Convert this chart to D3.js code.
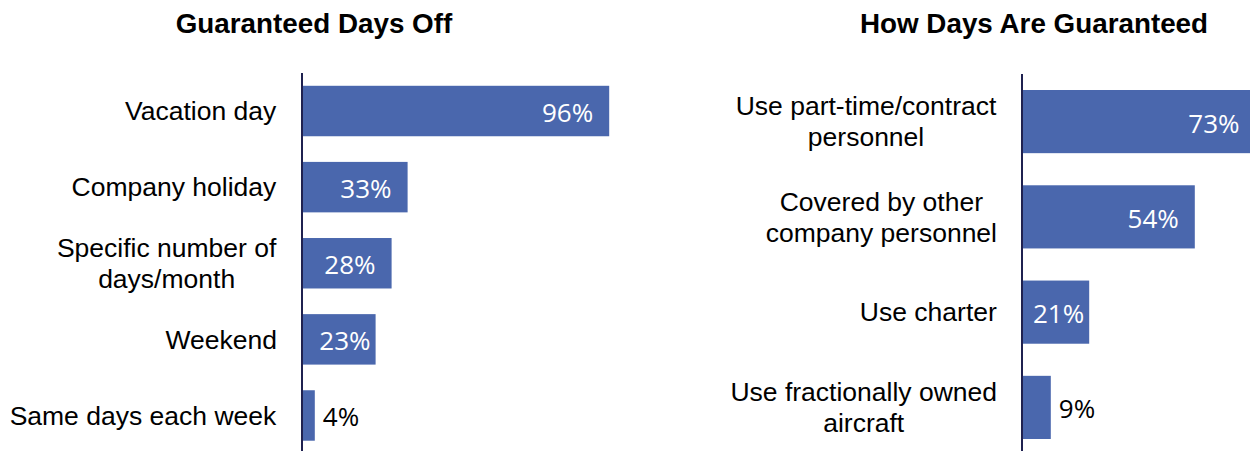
<!DOCTYPE html>
<html>
<head>
<meta charset="utf-8">
<script src="https://cdn.jsdelivr.net/npm/d3@7"></script>
<style>
  html, body { margin: 0; padding: 0; background: #fff; }
  svg { display: block; }
</style>
</head>
<body>
<svg id="chart" width="1250" height="451"></svg>
<script>
// left panel
const leftTitle = "Guaranteed Days Off";
const leftCategories = ["Vacation day", "Company holiday", "Specific number of\ndays/month", "Weekend", "Same days each week"];
const leftValues = [96, 33, 28, 23, 4];

// right panel
const rightTitle = "How Days Are Guaranteed";
const rightCategories = ["Use part-time/contract\npersonnel", "Covered by other\ncompany personnel", "Use charter", "Use fractionally owned\naircraft"];
const rightValues = [73, 54, 21, 9];

const barColor = "#4a67ad";
const axisColor = "#1f2150";
const labelFont = "'Liberation Sans', Arial, sans-serif";
const valueFont = "'Open Sans', 'Noto Sans', sans-serif";

const svg = d3.select("#chart");

function drawPanel(opts) {
    const { title, titleX, categories, values, axisX, yRange } = opts;

    const x = d3.scaleLinear().domain([0, 100]).range([axisX, axisX + 320]);
    const y = d3.scaleBand()
        .domain(categories)
        .range(yRange)
        .paddingInner(0.337)
        .paddingOuter(0.168);

    const g = svg.append("g");

    g.append("text")
        .attr("x", titleX)
        .attr("y", 33)
        .attr("text-anchor", "middle")
        .style("font-family", labelFont)
        .style("font-size", "27.8px")
        .style("font-weight", "bold")
        .attr("fill", "#000")
        .text(title);

    const rows = categories.map((c, i) => ({ cat: c, val: values[i] }));

    g.selectAll(".bar")
        .data(rows)
        .enter()
        .append("rect")
        .attr("class", "bar")
        .attr("x", x(0))
        .attr("y", d => y(d.cat))
        .attr("width", d => x(d.val) - x(0))
        .attr("height", y.bandwidth())
        .attr("fill", barColor);

    // vertical axis line
    g.append("line")
        .attr("x1", x(0)).attr("x2", x(0))
        .attr("y1", yRange[0]).attr("y2", yRange[1])
        .attr("stroke", axisColor)
        .attr("stroke-width", 2);

    // category labels, multi-line centred as a block, block right aligned
    const lineH = 31;
    rows.forEach(d => {
        const lines = d.cat.split("\n");
        const cy = y(d.cat) + y.bandwidth() / 2;
        const t = g.append("text")
            .attr("text-anchor", "middle")
            .style("font-family", labelFont)
            .style("font-size", "26.5px")
            .attr("fill", "#000");
        lines.forEach((ln, k) => {
            t.append("tspan")
                .attr("x", 0)
                .attr("y", cy + (k - (lines.length - 1) / 2) * lineH)
                .attr("dy", "0.35em")
                .text(ln);
        });
        const bb = t.node().getBBox();
        const right = x(0) - 25;
        t.attr("transform", `translate(${right - (bb.x + bb.width)},0)`);
    });

    // value labels
    rows.forEach(d => {
        const cy = y(d.cat) + y.bandwidth() / 2;
        const barW = x(d.val) - x(0);
        const t = g.append("text")
            .attr("y", cy)
            .attr("dy", "0.42em")
            .style("font-family", valueFont)
            .style("font-size", "26px")
            .text(`${d.val}%`);
        const tw = t.node().getComputedTextLength();
        if (barW < tw + 10) {
            t.attr("x", x(d.val) + 8).attr("text-anchor", "start").attr("fill", "#000");
        } else if (barW - tw >= 30) {
            t.attr("x", x(d.val) - 16).attr("text-anchor", "end").attr("fill", "#fff");
        } else {
            t.attr("x", x(d.val) - 5).attr("text-anchor", "end").attr("fill", "#fff");
        }
    });
}

drawPanel({
    title: leftTitle,
    titleX: 314,
    categories: leftCategories,
    values: leftValues,
    axisX: 302,
    yRange: [73, 453.5]
});

drawPanel({
    title: rightTitle,
    titleX: 1034,
    categories: rightCategories,
    values: rightValues,
    axisX: 1022,
    yRange: [74, 455]
});
</script>
</body>
</html>
